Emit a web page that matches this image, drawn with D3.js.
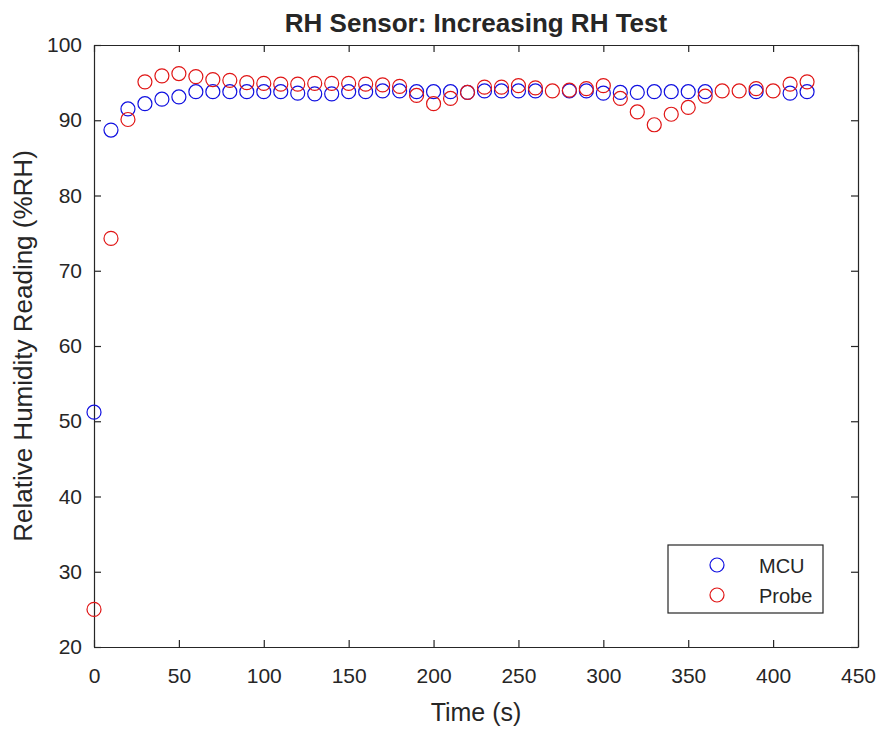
<html lang="en">
<head>
    <meta charset="UTF-8">
    <title>RH Sensor: Increasing RH Test</title>
    <style>
        body { margin: 0; background: #fff; }
        text { font-family: "Liberation Sans", Arial, sans-serif; fill: #262626; }
    </style>
</head>
<body>
    <div id="graph"></div>
    <script src="https://d3js.org/d3.v7.min.js"></script>
    <script>
        // data (time in s, RH in %)
        var times = [0, 10, 20, 30, 40, 50, 60, 70, 80, 90, 100, 110, 120, 130, 140, 150, 160, 170, 180, 190,
                     200, 210, 220, 230, 240, 250, 260, 270, 280, 290, 300, 310, 320, 330, 340, 350, 360, 370,
                     380, 390, 400, 410, 420];
        var mcu = [51.2, 88.7, 91.5, 92.2, 92.8, 93.1, 93.8, 93.8, 93.8, 93.8, 93.8, 93.8, 93.6, 93.5, 93.5, 93.8,
                   93.8, 93.9, 93.9, 93.8, 93.8, 93.8, 93.7, 93.9, 93.9, 93.9, 93.9, null, 93.9, 93.9, 93.6, 93.7,
                   93.7, 93.8, 93.8, 93.8, 93.8, null, null, 93.8, null, 93.6, 93.8];
        var probe = [25.0, 74.3, 90.1, 95.1, 95.9, 96.2, 95.8, 95.4, 95.3, 95.0, 94.9, 94.8, 94.8, 94.9, 94.9, 94.9,
                     94.8, 94.7, 94.5, 93.3, 92.2, 92.9, 93.7, 94.4, 94.4, 94.6, 94.3, 93.9, 94.0, 94.2, 94.6, 92.9,
                     91.1, 89.4, 90.8, 91.7, 93.2, 93.9, 93.9, 94.2, 93.9, 94.8, 95.1];
        var xTicks = [0, 50, 100, 150, 200, 250, 300, 350, 400, 450];
        var yTicks = [20, 30, 40, 50, 60, 70, 80, 90, 100];
        var seriesNames = ["MCU", "Probe"];
        var seriesColors = ["#1010e0", "#e01515"];

        var margin = { top: 45, right: 24, bottom: 82, left: 94 },
            width = 882 - margin.left - margin.right,
            height = 729 - margin.top - margin.bottom;

        var x = d3.scaleLinear().domain([0, 450]).range([0, width]);
        var y = d3.scaleLinear().domain([20, 100]).range([height, 0]);

        var root = d3.select("#graph").append("svg")
            .attr("width", 882)
            .attr("height", 729);

        var svg = root.append("g")
            .attr("transform", "translate(" + margin.left + "," + margin.top + ")");

        // axes, matlab style: inward ticks on all four sides
        function styleAxis(g) {
            g.selectAll("path").attr("stroke", "#262626").attr("stroke-width", 1.2);
            g.selectAll("line").attr("stroke", "#262626").attr("stroke-width", 1.2);
            g.selectAll("text").style("font-size", "21px").attr("fill", "#333");
        }

        svg.append("g")
            .attr("transform", "translate(0," + height + ")")
            .call(d3.axisBottom(x).tickValues(xTicks).tickSizeInner(-7).tickSizeOuter(0).tickPadding(21))
            .call(styleAxis);
        svg.append("g")
            .call(d3.axisTop(x).tickValues(xTicks).tickSizeInner(-7).tickSizeOuter(0).tickFormat(""))
            .call(styleAxis);
        svg.append("g")
            .call(d3.axisLeft(y).tickValues(yTicks).tickSizeInner(-7).tickSizeOuter(0).tickPadding(12))
            .call(styleAxis);
        svg.append("g")
            .attr("transform", "translate(" + width + ",0)")
            .call(d3.axisRight(y).tickValues(yTicks).tickSizeInner(-7).tickSizeOuter(0).tickFormat(""))
            .call(styleAxis);

        // points
        [mcu, probe].forEach(function(vals, i) {
            var pts = times.map(function(t, j) { return { t: t, v: vals[j] }; })
                .filter(function(d) { return d.v !== null; });
            svg.append("g").selectAll("circle")
                .data(pts)
                .enter().append("circle")
                .attr("cx", function(d) { return x(d.t); })
                .attr("cy", function(d) { return y(d.v); })
                .attr("r", 7)
                .attr("fill", "none")
                .attr("stroke", seriesColors[i])
                .attr("stroke-width", 1.2);
        });

        // title and labels
        root.append("text")
            .attr("x", margin.left + width / 2)
            .attr("y", 32)
            .attr("text-anchor", "middle")
            .style("font-size", "26px")
            .style("font-weight", "bold")
            .attr("fill", "#111")
            .text("RH Sensor: Increasing RH Test");

        root.append("text")
            .attr("x", margin.left + width / 2)
            .attr("y", 721)
            .attr("text-anchor", "middle")
            .style("font-size", "25px")
            .attr("fill", "#333")
            .text("Time (s)");

        root.append("text")
            .attr("transform", "translate(32," + (margin.top + height / 2) + ") rotate(-90)")
            .attr("text-anchor", "middle")
            .style("font-size", "26px")
            .attr("fill", "#333")
            .text("Relative Humidity Reading (%RH)");

        // legend
        var legend = svg.append("g")
            .attr("transform", "translate(" + (x(0) + 574) + "," + 500 + ")");
        legend.append("rect")
            .attr("width", 155)
            .attr("height", 68)
            .attr("fill", "#fff")
            .attr("stroke", "#262626")
            .attr("stroke-width", 1.2);
        seriesNames.forEach(function(name, i) {
            legend.append("circle")
                .attr("cx", 49)
                .attr("cy", 20 + i * 30)
                .attr("r", 7)
                .attr("fill", "none")
                .attr("stroke", seriesColors[i])
                .attr("stroke-width", 1.2);
            legend.append("text")
                .attr("x", 91)
                .attr("y", 28 + i * 30)
                .style("font-size", "20px")
                .text(name);
        });
    </script>
</body>
</html>
